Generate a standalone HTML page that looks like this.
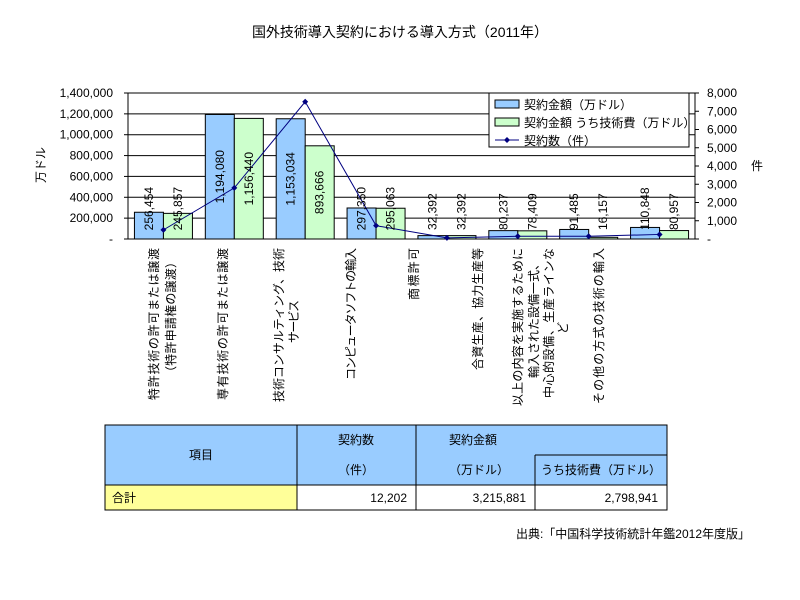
<!DOCTYPE html>
<html><head><meta charset="utf-8">
<style>
html,body{margin:0;padding:0;background:#fff;}
svg{display:block;font-family:"Liberation Sans","Noto Sans CJK JP",sans-serif;}
</style></head>
<body>
<svg id="c" width="800" height="600" xmlns="http://www.w3.org/2000/svg">
<rect width="800" height="600" fill="#fff"/>
<text x="400" y="37" font-size="14" text-anchor="middle">国外技術導入契約における導入方式（2011年）</text>
<g id="grid"></g>
<g id="bars"></g>
<g id="line"></g>
<g id="labels" font-size="12"></g>
<g id="axes" font-size="12"></g>
<text transform="translate(45,165) rotate(-90)" font-size="12" text-anchor="middle">万ドル</text>
<text x="757" y="170" font-size="12" text-anchor="middle">件</text>
<!-- legend -->
<rect x="489" y="93" width="200" height="54" fill="#fff" stroke="#000" stroke-width="1"/>
<rect x="495" y="100" width="24" height="8" fill="#99ccff" stroke="#000"/>
<text x="524" y="109" font-size="12">契約金額（万ドル）</text>
<rect x="495" y="118" width="24" height="8" fill="#ccffcc" stroke="#000"/>
<text x="524" y="127" font-size="12">契約金額 うち技術費（万ドル）</text>
<line x1="495" y1="140" x2="519" y2="140" stroke="#000080"/>
<path d="M507 137 L510 140 L507 143 L504 140Z" fill="#000080"/>
<text x="524" y="145" font-size="12">契約数（件）</text>
<!-- table -->
<g font-size="12" stroke="#000" stroke-width="1">
<rect x="105" y="425" width="562" height="60" fill="#99ccff"/>
<rect x="105" y="485" width="192" height="25" fill="#ffff99"/>
<rect x="297" y="485" width="370" height="25" fill="#fff"/>
<line x1="297" y1="425" x2="297" y2="510"/>
<line x1="416" y1="425" x2="416" y2="510"/>
<line x1="535" y1="455" x2="535" y2="510"/>
<line x1="535" y1="455" x2="667" y2="455"/>
<line x1="105" y1="485" x2="667" y2="485"/>
</g>
<g font-size="12">
<text x="201" y="459" text-anchor="middle">項目</text>
<text x="356" y="444" text-anchor="middle">契約数</text>
<text x="356" y="474" text-anchor="middle">（件）</text>
<text x="449" y="444">契約金額</text>
<text x="449" y="474">（万ドル）</text>
<text x="601" y="474" text-anchor="middle">うち技術費（万ドル）</text>
<text x="112" y="502">合計</text>
<text x="407" y="502" text-anchor="end">12,202</text>
<text x="526" y="502" text-anchor="end">3,215,881</text>
<text x="658" y="502" text-anchor="end">2,798,941</text>
<text x="750" y="538" text-anchor="end">出典:「中国科学技術統計年鑑2012年度版」</text>
</g>
</svg>
<script>
var NS="http://www.w3.org/2000/svg";
function el(p,t,a,txt){var e=document.createElementNS(NS,t);for(var k in a)e.setAttribute(k,a[k]);if(txt!==undefined)e.textContent=txt;document.getElementById(p).appendChild(e);return e;}
var L=128,R=695,T=93,B=239,H=B-T;
function y(v){return B-v/1400000*H;}
function y2(v){return B-v/8000*H;}
for(var i=0;i<=7;i++){var yy=y(i*200000);
 el("grid","line",{x1:L,x2:R,y1:yy,y2:yy,stroke:"#000","stroke-width":1});
 el("axes","text",{x:113,y:yy+4,"text-anchor":"end"},i==0?"-":(i*200000).toLocaleString("en-US"));
 el("axes","line",{x1:124,x2:128,y1:yy,y2:yy,stroke:"#000"});
}
for(var i=0;i<=8;i++){var yy=y2(i*1000);
 el("axes","text",{x:707,y:yy+4},i==0?"-":(i*1000).toLocaleString("en-US"));
 el("axes","line",{x1:695,x2:699,y1:yy,y2:yy,stroke:"#000"});
}
el("grid","line",{x1:L,x2:L,y1:T,y2:B,stroke:"#000"});
el("grid","line",{x1:R,x2:R,y1:T,y2:B,stroke:"#000"});
var bl=[256454,1194080,1153034,297350,32392,80237,91485,110848];
var gr=[245857,1156440,893666,295063,32392,78409,16157,80957];
var cnt=[500,2800,7520,730,60,150,150,250];
var cw=(R-L)/8,pts=[];
function lab(cx,top,bot,v){var s=v.toLocaleString("en-US");var len=s.length*6.1;var c=(top+bot)/2;if(c+len/2>230)c=230-len/2;
 el("labels","text",{transform:"translate("+(cx+4)+","+c+") rotate(-90)","text-anchor":"middle"},s);}
for(var i=0;i<8;i++){var c=L+cw*(i+0.5);
 el("bars","rect",{x:c-29,y:y(bl[i]),width:29,height:B-y(bl[i]),fill:"#99ccff",stroke:"#000"});
 el("bars","rect",{x:c,y:y(gr[i]),width:29,height:B-y(gr[i]),fill:"#ccffcc",stroke:"#000"});
 lab(c-14.5,y(bl[i]),B,bl[i]);lab(c+14.5,y(gr[i]),B,gr[i]);
 pts.push(c+","+y2(cnt[i]));
}
el("line","polyline",{points:pts.join(" "),fill:"none",stroke:"#000080","stroke-width":1});
pts.forEach(function(p){var a=p.split(",");var x=+a[0],yy=+a[1];el("line","path",{d:"M"+x+" "+(yy-3)+" L"+(x+3)+" "+yy+" L"+x+" "+(yy+3)+" L"+(x-3)+" "+yy+"Z",fill:"#000080"});});
var cats=[[153,248,"特許技術の許可または譲渡",152],[170,256,"（特許申請権の譲渡）",122],[222,248,"専有技術の許可または譲渡",152],
[278,248,"技術コンサルティング、技術",154],[293,300,"サービス",43],[350,248,"コンピュータソフトの輸入",132],[413,248,"商標許可",52],
[477,248,"合資生産、協力生産等",122],[517,248,"以上の内容を実施するために",158],[533,258,"輸入された設備一式、",120],[548,248,"中心的設備、生産ラインな",150],[562,322,"ど",12],
[598,248,"その他の方式の技術の輸入",156]];
cats.forEach(function(a){el("labels","text",{transform:"translate("+(a[0]+5)+","+a[1]+") rotate(-90)","text-anchor":"end",textLength:a[3],lengthAdjust:"spacing"},a[2]);});
</script>
</body></html>
